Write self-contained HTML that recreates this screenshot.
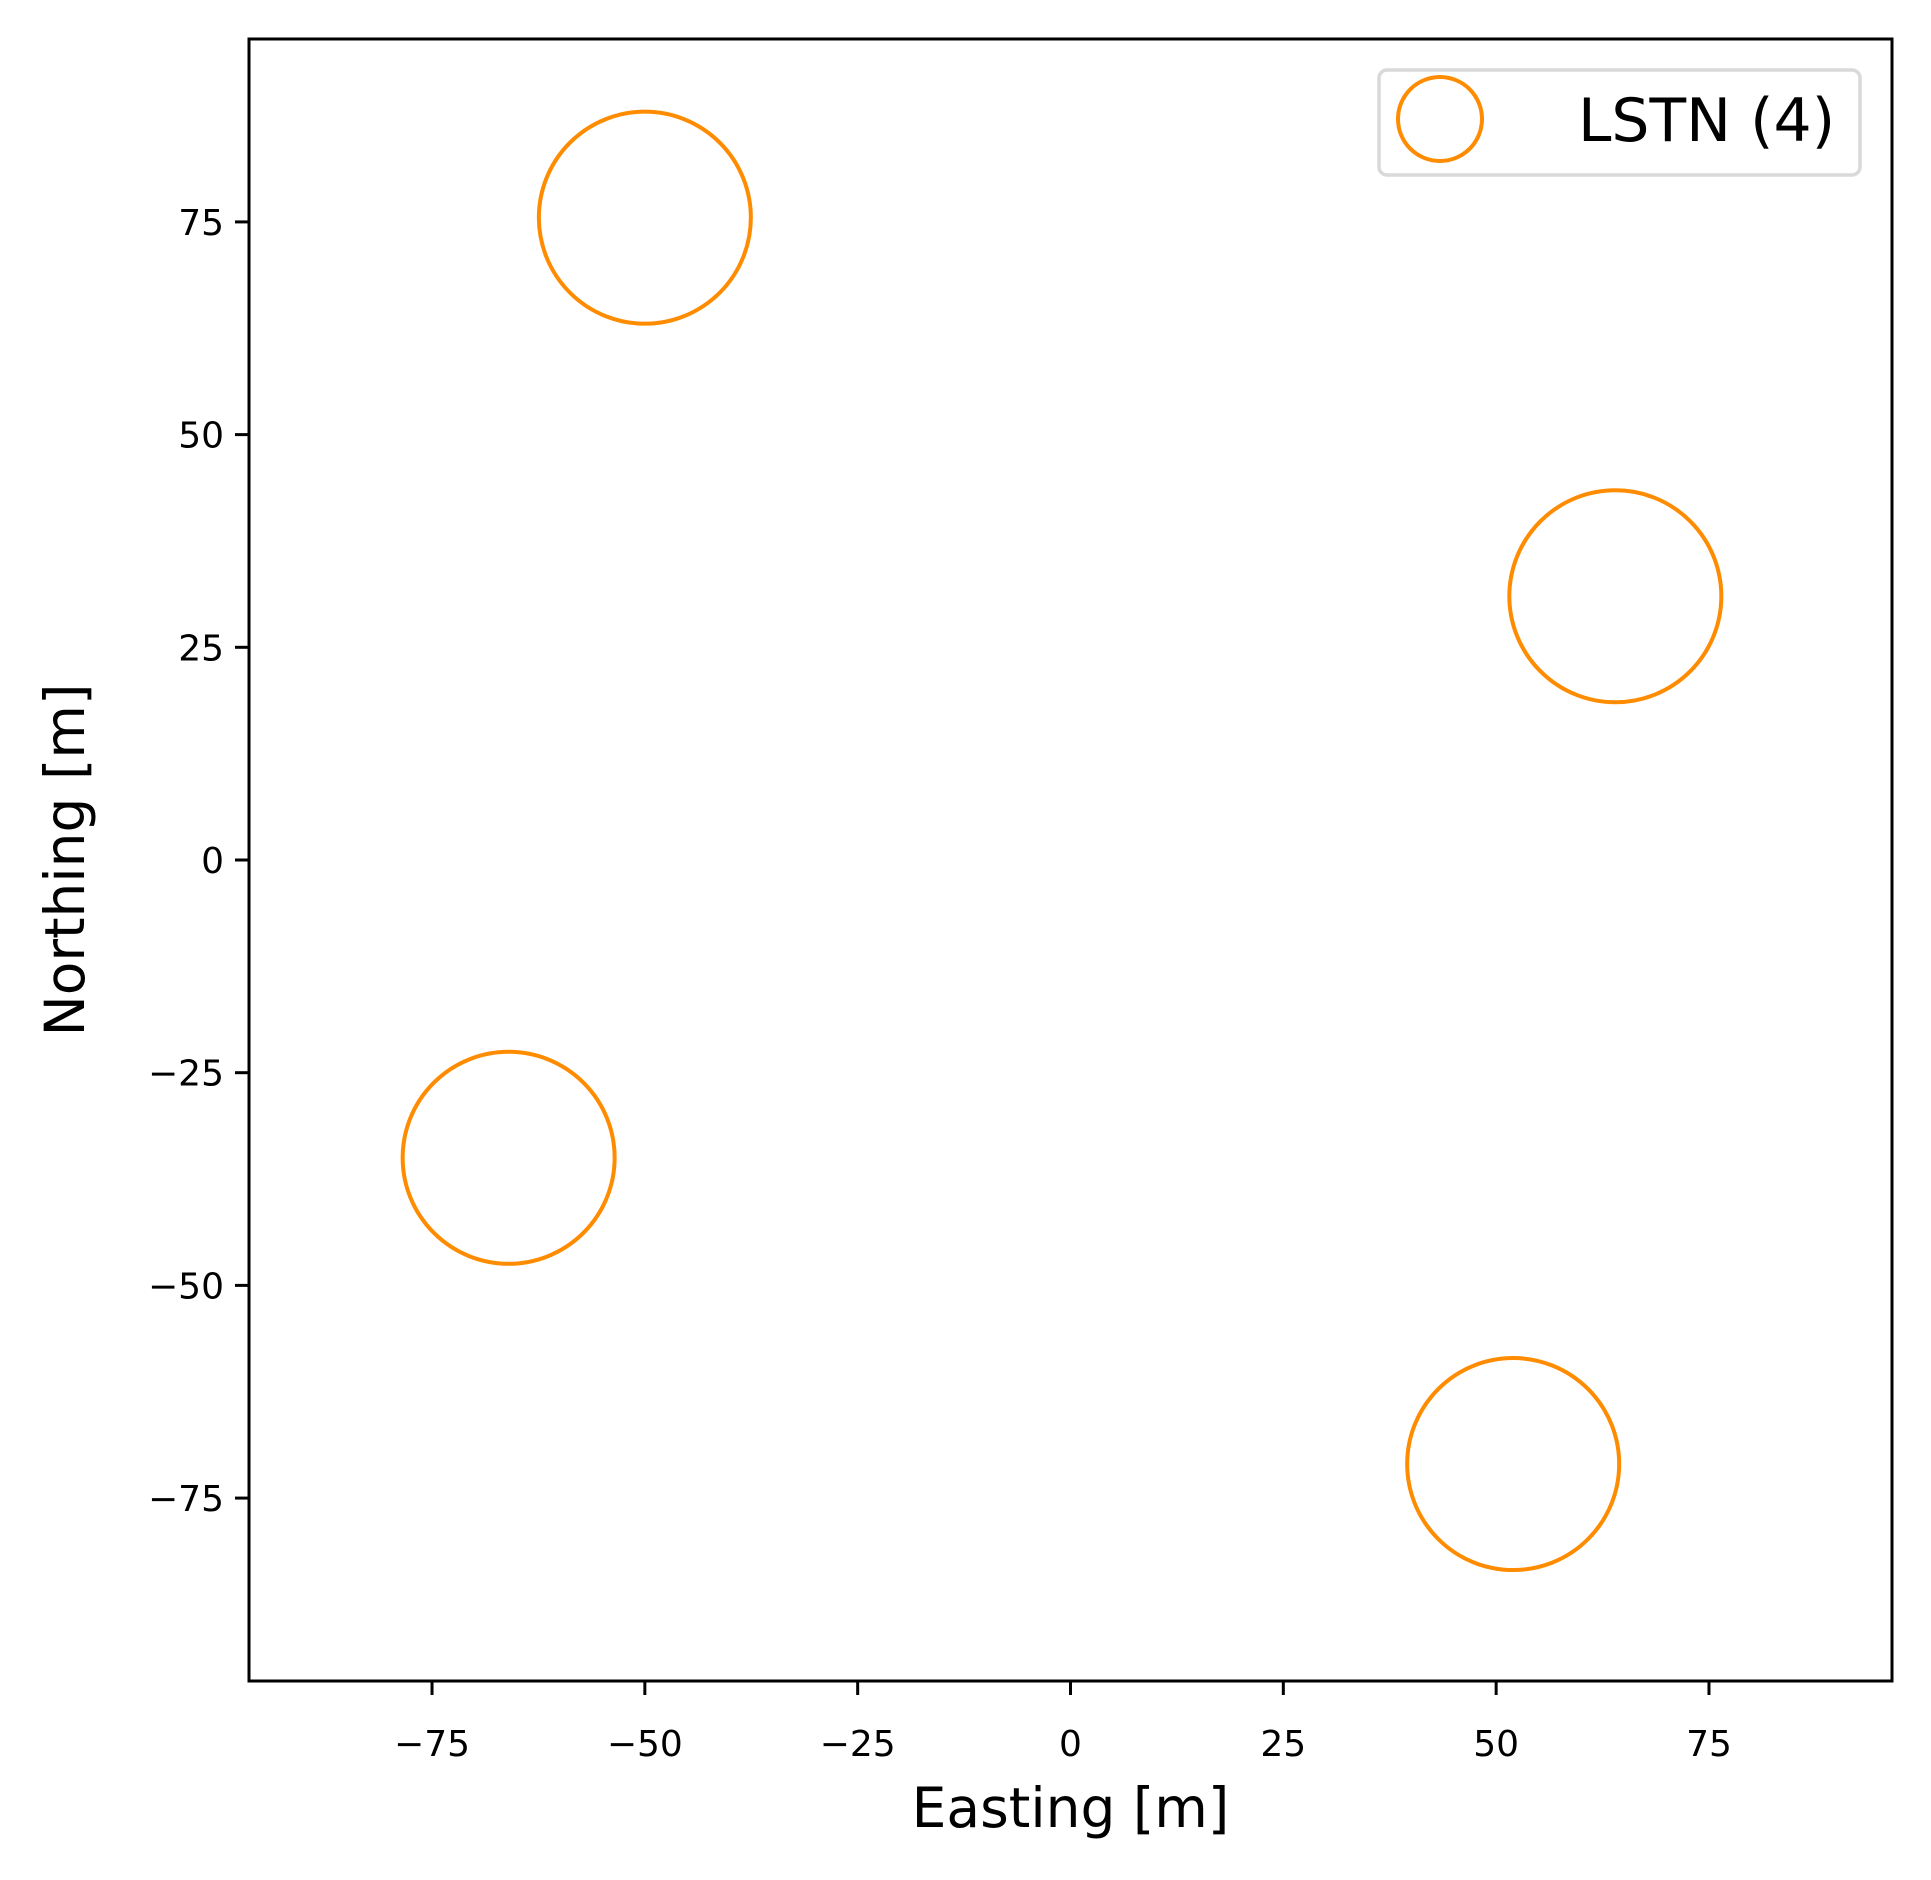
<!DOCTYPE html>
<html><head><meta charset="utf-8"><style>
body{margin:0;background:#fff}
svg{display:block;font-family:"DejaVu Sans","Liberation Sans",sans-serif}
</style></head><body>
<svg id="chart" width="1931" height="1880" viewBox="0 0 1931 1880">
<rect width="1931" height="1880" fill="#fff"/>
<g id="marks"></g>
<g id="axes"></g>
</svg>
<script>
const eastings = [-50, 64, -66, 52];
const northings = [75.5, 31, -35, -71];
const xTicks = [-75, -50, -25, 0, 25, 50, 75];
const yTicks = [-75, -50, -25, 0, 25, 50, 75];
const seriesLabel = "LSTN (4)";

const L=249, R=1892, T=39, B=1681;
const xmin=-96.5, xmax=96.5, ymin=-96.5, ymax=96.5;
const sx=v=>L+(v-xmin)/(xmax-xmin)*(R-L);
const sy=v=>B-(v-ymin)/(ymax-ymin)*(B-T);
const NS="http://www.w3.org/2000/svg";
function mk(tag, attrs, parent){const e=document.createElementNS(NS,tag);for(const k in attrs)e.setAttribute(k,attrs[k]);parent.appendChild(e);return e;}
const marks=document.getElementById('marks'), axes=document.getElementById('axes');
const minus=v=>v<0?'\u2212'+Math.abs(v):String(v);

eastings.forEach((x,i)=>{
  const c=mk('circle',{cx:sx(x),cy:sy(northings[i]),r:106,fill:'none',stroke:'#ff8c00','stroke-width':4},marks);
  
  
});

xTicks.forEach(v=>{
  const t=mk('line',{x1:sx(v),x2:sx(v),y1:B,y2:B+14,stroke:'#000','stroke-width':3},axes);
  
  
  const l=mk('text',{x:sx(v),y:B+75,'text-anchor':'middle','font-size':36},axes);
  l.textContent=minus(v);
  
  
});
yTicks.forEach(v=>{
  const t=mk('line',{x1:L-14,x2:L,y1:sy(v),y2:sy(v),stroke:'#000','stroke-width':3},axes);
  
  
  const l=mk('text',{x:L-25,y:sy(v)+13,'text-anchor':'end','font-size':36},axes);
  l.textContent=minus(v);
  
  
});
const frame=mk('rect',{x:L,y:T,width:R-L,height:B-T,fill:'none',stroke:'#000','stroke-width':3},axes);



const xt=mk('text',{x:(L+R)/2,y:1827,'text-anchor':'middle','font-size':55},axes);
xt.textContent='Easting [m]';


const yt=mk('text',{x:0,y:0,'text-anchor':'middle','font-size':55,transform:'translate(84,'+sy(0)+') rotate(-90)'},axes);
yt.textContent='Northing [m]';



const lg=mk('g',{},axes);


const box=mk('rect',{x:1379,y:70,width:481,height:105,rx:8,fill:'#fff',stroke:'#d9d9d9','stroke-width':3.5},lg);


const lm=mk('circle',{cx:1440,cy:119,r:42,fill:'none',stroke:'#ff8c00','stroke-width':4},lg);


const lt=mk('text',{x:1578,y:141,'font-size':60},lg);
lt.textContent=seriesLabel;


</script>
</body></html>
